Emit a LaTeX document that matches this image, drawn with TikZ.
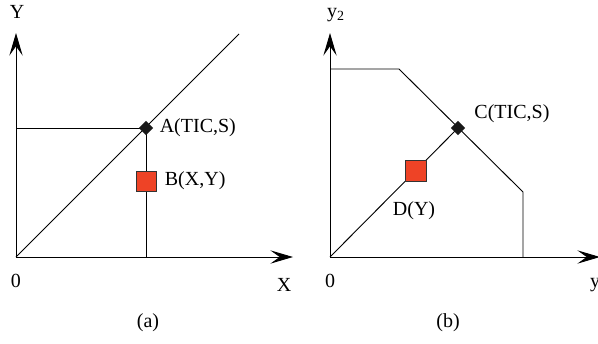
\documentclass[tikz,border=0pt]{standalone}
\usepackage{fontspec}
\setmainfont{Liberation Serif}
\usetikzlibrary{arrows.meta, shapes.geometric, positioning}
\definecolor{markred}{HTML}{EE4326}

\begin{document}
\begin{tikzpicture}[
  x=0.75pt, y=-0.75pt, line width=0.7pt,
  >={Stealth[length=17pt, width=10pt, inset=7pt]},
  lbl/.style={font=\fontsize{15}{17}\selectfont, inner sep=0pt},
  optpt/.style={diamond, fill=black!90, inner sep=0pt, minimum size=11pt},
  curpt/.style={rectangle, draw=black!80, fill=markred, line width=0.6pt,
                inner sep=0pt, minimum size=15pt}]
  \useasboundingbox (0,0) rectangle (598,343);
  % (a)
  \coordinate (oa) at (16,257);
  \coordinate (ya) at (16,33);
  \coordinate (xa) at (293,257);
  \coordinate (da) at (239,34);
  \coordinate (pa) at (146,128);
  \draw[->] (oa) -- (ya);
  \draw[->] (oa) -- (xa);
  \draw (oa) -- (da);
  \draw (oa |- pa) -- (pa) -- (pa |- oa);
  \node[optpt] (A) at (pa) {};
  \node[curpt] (B) at (146,181) {};
  \node[lbl, right=7pt of A.center, xshift=3pt] (Alab) {A(TIC,S)};
  \node[lbl, right=6pt of B] (Blab) {B(X,Y)};
  \node[lbl] (Ya) at (17,12) {Y};
  \node[lbl] (Za) at (16,281) {0};
  \node[lbl] (Xa) at (284,285) {X};
  \node[lbl] (capa) at (148,323) {(a)};
  % (b)
  \coordinate (ob) at (330,257);
  \coordinate (yb) at (330,33);
  \coordinate (xb) at (600,257);
  \coordinate (k1) at (330,69);
  \coordinate (k2) at (399,69);
  \coordinate (k3) at (523,192);
  \coordinate (k4) at (523,257);
  \coordinate (pc) at (458,128);
  \draw[->] (ob) -- (yb);
  \draw[->] (ob) -- (xb);
  \draw (k1) -- (k2) -- (k3) -- (k4);
  \draw (ob) -- (pc);
  \node[optpt] (C) at (pc) {};
  \node[curpt, minimum size=16pt] (D) at (416,171) {};
  \node[lbl, anchor=west] (Clab) at (474,114) {C(TIC,S)};
  \node[lbl] (Dlab) at (414,211) {D(Y)};
  \node[lbl] (Yb) at (336,15) {y\textsubscript{2}};
  \node[lbl] (Zb) at (330,281) {0};
  \node[lbl] (Xb) at (595,285) {y};
  \node[lbl] (capb) at (448,323) {(b)};
\end{tikzpicture}
\end{document}
